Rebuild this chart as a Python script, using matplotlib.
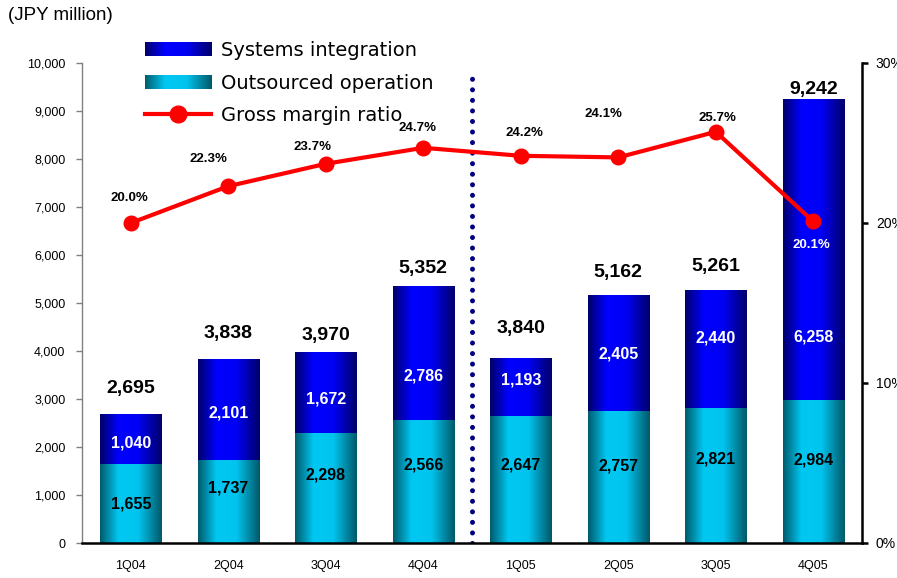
import numpy as np
import matplotlib
matplotlib.use("Agg")
import matplotlib.pyplot as plt
from matplotlib.colors import LinearSegmentedColormap
from matplotlib.legend_handler import HandlerBase
from matplotlib.image import BboxImage
from matplotlib.transforms import Bbox, TransformedBbox
from matplotlib.patches import Rectangle
from matplotlib.lines import Line2D

# data
quarters = ['1Q04', '2Q04', '3Q04', '4Q04', '1Q05', '2Q05', '3Q05', '4Q05']
outsourced = [1655, 1737, 2298, 2566, 2647, 2757, 2821, 2984]
systems = [1040, 2101, 1672, 2786, 1193, 2405, 2440, 6258]
margin_pct = [20.0, 22.3, 23.7, 24.7, 24.2, 24.1, 25.7, 20.1]

# label placement (where the labels sit in the original)
out_label_frac = [0.49, 0.66, 0.62, 0.63, 0.61, 0.58, 0.62, 0.58]
sys_label_frac = [0.41, 0.46, 0.42, 0.33, 0.63, 0.49, 0.59, 0.21]
total_label_gap = [25, 25, 17, 18, 30, 23, 24, 10]
pct_label_offset = [(-1, 25), (-20, 27), (-13, 17), (-6, 20), (4, 23), (-15, 43), (2, 14), (-2, -24)]

plt.rcParams['font.family'] = ['Liberation Sans', 'DejaVu Sans']

blue_cmap = LinearSegmentedColormap.from_list(
    'sysgrad', [(0, '#000068'), (0.3, '#0000ff'), (0.62, '#0000f4'), (1, '#00006a')])
cyan_cmap = LinearSegmentedColormap.from_list(
    'outgrad', [(0, '#005a6c'), (0.3, '#00c8f2'), (0.62, '#00c4ee'), (1, '#005868')])
grad = np.linspace(0, 1, 256).reshape(1, -1)


class GradientHandler(HandlerBase):
    def __init__(self, cmap):
        super().__init__()
        self.cmap = cmap

    def create_artists(self, legend, orig_handle, xdescent, ydescent,
                       width, height, fontsize, trans):
        bb = Bbox.from_bounds(-xdescent, -ydescent, width, height)
        img = BboxImage(TransformedBbox(bb, trans), cmap=self.cmap,
                        interpolation='bicubic')
        img.set_data(grad)
        return [img]


def fill_gradient(ax, bars, cmap):
    for b in bars:
        x0, y0 = b.get_x(), b.get_y()
        ax.imshow(grad, cmap=cmap, aspect='auto', interpolation='bicubic',
                  extent=[x0, x0 + b.get_width(), y0, y0 + b.get_height()],
                  zorder=1)


fig = plt.figure(figsize=(8.97, 5.78), dpi=100)
ax = fig.add_axes([82 / 897, 35 / 578, 780 / 897, 480 / 578])
x = np.arange(len(quarters))
width = 0.63

bars_out = ax.bar(x, outsourced, width, color='none', edgecolor='none')
bars_sys = ax.bar(x, systems, width, bottom=outsourced, color='none', edgecolor='none')
fill_gradient(ax, bars_out, cyan_cmap)
fill_gradient(ax, bars_sys, blue_cmap)

totals = [o + s for o, s in zip(outsourced, systems)]
for i in range(len(quarters)):
    ax.text(x[i], outsourced[i] * out_label_frac[i], f'{outsourced[i]:,}',
            ha='center', va='center', fontsize=11.5, fontweight='bold',
            color='black', zorder=4)
    ax.text(x[i], outsourced[i] + systems[i] * sys_label_frac[i], f'{systems[i]:,}',
            ha='center', va='center', fontsize=11.5, fontweight='bold',
            color='white', zorder=4)
    ax.annotate(f'{totals[i]:,}', (x[i], totals[i]), xytext=(0, total_label_gap[i]),
                textcoords='offset pixels', ha='center', va='center',
                fontsize=14, fontweight='bold', zorder=4)

# separator between fiscal years
ax.axvline(3.5, ymin=0, ymax=0.978, color='#000080', lw=3.6,
           linestyle=(0, (0.01, 2.1)), dash_capstyle='round', zorder=2)

ax.set_xlim(-0.5, len(quarters) - 0.5)
ax.set_ylim(0, 10000)
ax.set_yticks(np.arange(0, 10001, 1000))
ax.yaxis.set_major_formatter(matplotlib.ticker.StrMethodFormatter('{x:,.0f}'))
ax.set_xticks(x)
ax.set_xticklabels(quarters)
ax.tick_params(axis='x', length=0, pad=12, labelsize=9)
ax.tick_params(axis='y', length=4, width=1, color='#808080', pad=8, labelsize=9)
ax.spines['top'].set_visible(False)
ax.spines['right'].set_visible(False)
ax.spines['left'].set_color('#808080')
ax.spines['left'].set_linewidth(1)
ax.spines['bottom'].set_linewidth(1.8)

ax2 = ax.twinx()
ax2.plot(x, margin_pct, color='#ff0000', lw=3, marker='o', ms=10.5, zorder=5)
for i, p in enumerate(margin_pct):
    ax2.annotate(f'{p:.1f}%', (x[i], p), xytext=pct_label_offset[i],
                 textcoords='offset pixels', ha='center', va='center',
                 fontsize=9.5, fontweight='bold',
                 color='white' if i == len(margin_pct) - 1 else 'black')
ax2.set_ylim(0, 30)
ax2.set_yticks([0, 10, 20, 30])
ax2.set_yticklabels(['0%', '10%', '20%', '30%'])
ax2.tick_params(axis='y', length=4, width=1.8, pad=6, labelsize=10)
for s in ['top', 'left', 'bottom']:
    ax2.spines[s].set_visible(False)
ax2.spines['right'].set_linewidth(1.8)

fig.text(8 / 897, 1 - 16 / 578, '(JPY million)', fontsize=13.5, va='center', ha='left')

h_sys = Rectangle((0, 0), 1, 1)
h_out = Rectangle((0, 0), 1, 1)
h_gm = Line2D([], [], color='#ff0000', lw=3, marker='o', ms=12)
fig.legend([h_sys, h_out, h_gm],
           ['Systems integration', 'Outsourced operation', 'Gross margin ratio'],
           handler_map={h_sys: GradientHandler(blue_cmap), h_out: GradientHandler(cyan_cmap)},
           loc='upper left', bbox_to_anchor=(145 / 897, 1 - 41 / 578),
           frameon=False, borderpad=0, borderaxespad=0, handlelength=3.4,
           handleheight=0.7, handletextpad=0.5, labelspacing=0.7,
           prop={'family': 'DejaVu Sans', 'size': 14}, numpoints=1)

fig.savefig('out.png', dpi=100)
